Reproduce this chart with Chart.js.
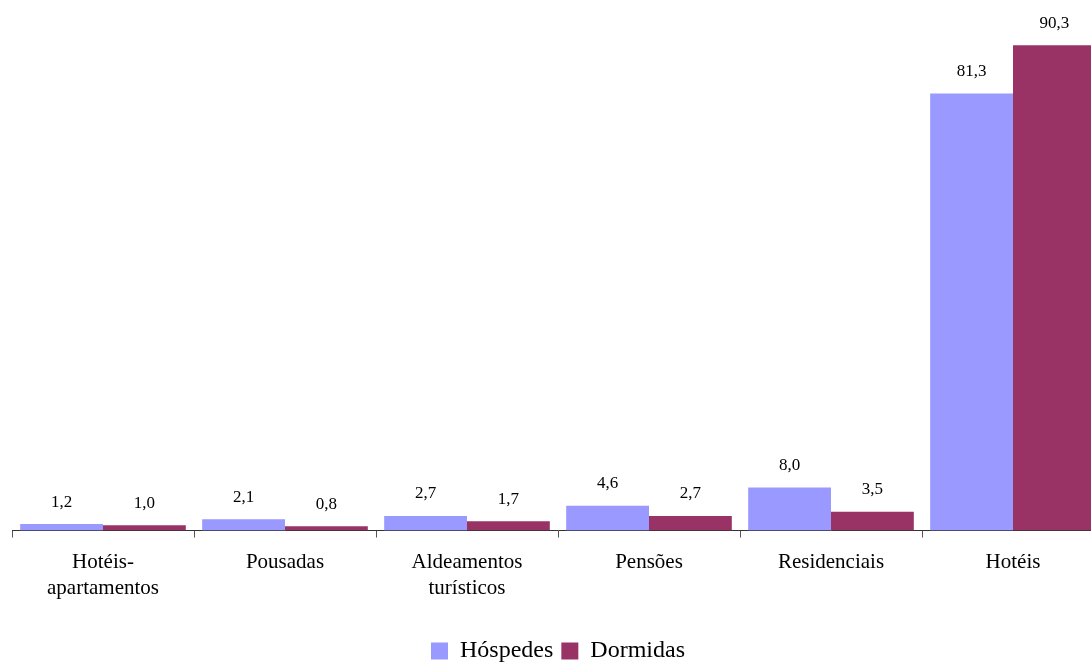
<!DOCTYPE html>
<html>
<head>
<meta charset="utf-8">
<script src="https://cdn.jsdelivr.net/npm/chart.js@4/dist/chart.umd.min.js"></script>
<style>
    html, body { margin: 0; padding: 0; background: #fff; overflow: hidden; }
    #wrap { position: relative; width: 1104px; height: 662px; }
</style>
</head>
<body>
<div id="wrap"><canvas id="chart"></canvas></div>
<script>
// Chart data
const categories = [['Hotéis-', 'apartamentos'], 'Pousadas', ['Aldeamentos', 'turísticos'], 'Pensões', 'Residenciais', 'Hotéis'];
const hospedes = [1.2, 2.1, 2.7, 4.6, 8.0, 81.3];
const dormidas = [1.0, 0.8, 1.7, 2.7, 3.5, 90.3];
const seriesNames = ['Hóspedes', 'Dormidas'];

const serif = "'Liberation Serif', 'Times New Roman', serif";

/**
 * Draw value labels above each bar (comma decimal)
 */
const valueLabels = {
    id: 'valueLabels',
    afterDatasetsDraw(chart) {
        const ctx = chart.ctx;
        ctx.save();
        ctx.font = '17px ' + serif;
        ctx.fillStyle = '#000';
        ctx.textAlign = 'center';
        ctx.textBaseline = 'middle';
        chart.data.datasets.forEach((ds, i) => {
            chart.getDatasetMeta(i).data.forEach((bar, j) => {
                const text = ds.data[j].toFixed(1).replace('.', ',');
                ctx.fillText(text, bar.x, bar.y - 22);
            });
        });
        ctx.restore();
    }
};

/**
 * Pull the legend a bit lower by trimming its box height
 */
const tightLegend = {
    id: 'tightLegend',
    afterInit(chart) {
        const legend = chart.legend;
        if (!legend) return;
        const fit = legend.fit;
        legend.fit = function() {
            fit.call(this);
            this.height -= 11;
        };
    }
};

new Chart(document.getElementById('chart'), {
    type: 'bar',
    data: {
        labels: categories,
        datasets: [{
            label: seriesNames[0],
            data: hospedes,
            backgroundColor: '#9999FF'
        }, {
            label: seriesNames[1],
            data: dormidas,
            backgroundColor: '#993366'
        }]
    },
    options: {
        responsive: true,
        maintainAspectRatio: false,
        animation: false,
        categoryPercentage: 0.91,
        barPercentage: 1.0,
        layout: {
            padding: { top: 20, left: 12, right: 0, bottom: 0 }
        },
        scales: {
            x: {
                offset: true,
                border: { color: '#333', width: 1 },
                grid: {
                    offset: true,
                    drawOnChartArea: false,
                    drawTicks: true,
                    tickLength: 7,
                    color: '#555'
                },
                ticks: {
                    color: '#000',
                    padding: 12,
                    maxRotation: 0,
                    font: { family: serif, size: 21, lineHeight: 1.25 }
                },
                afterFit: (scale) => { scale.height += 17; }
            },
            y: {
                display: false,
                min: 0,
                max: 95
            }
        },
        plugins: {
            legend: {
                position: 'bottom',
                labels: {
                    color: '#000',
                    boxWidth: 17,
                    boxHeight: 17,
                    padding: 8,
                    font: { family: serif, size: 24 }
                }
            },
            tooltip: { enabled: false }
        }
    },
    plugins: [valueLabels, tightLegend]
});
</script>
</body>
</html>
